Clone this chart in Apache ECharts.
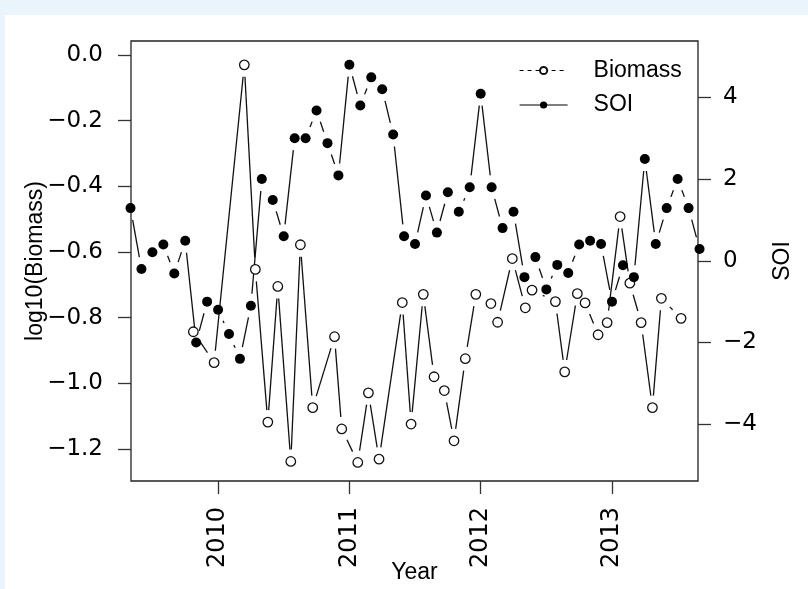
<!DOCTYPE html>
<html><head><meta charset="utf-8">
<script src="https://cdn.jsdelivr.net/npm/echarts@6/dist/echarts.min.js"></script>
<style>
html,body{margin:0;padding:0;background:#eaf4fb;width:808px;height:589px;overflow:hidden}
#bg{position:absolute;left:5px;top:15px;right:0;bottom:0;background:#fff}
#chart{position:absolute;left:0;top:0;width:808px;height:589px}
</style></head><body><div id="bg"></div><div id="chart"></div>
<script>
// SOI: monthly values
const soiMonths = [
 '2009-05','2009-06','2009-07','2009-08','2009-09','2009-10','2009-11','2009-12',
 '2010-01','2010-02','2010-03','2010-04','2010-05','2010-06','2010-07','2010-08','2010-09','2010-10','2010-11','2010-12',
 '2011-01','2011-02','2011-03','2011-04','2011-05','2011-06','2011-07','2011-08','2011-09','2011-10','2011-11','2011-12',
 '2012-01','2012-02','2012-03','2012-04','2012-05','2012-06','2012-07','2012-08','2012-09','2012-10','2012-11','2012-12',
 '2013-01','2013-02','2013-03','2013-04','2013-05','2013-06','2013-07','2013-08','2013-09'];
const soiValues = [
 1.29,-0.20,0.21,0.40,-0.31,0.49,-2.0,-1.0,
 -1.2,-1.79,-2.4,-1.1,2.0,1.49,0.6,3.0,3.0,3.68,2.88,2.09,
 4.80,3.80,4.49,4.2,3.09,0.60,0.41,1.6,0.69,1.68,1.2,1.8,
 4.09,1.8,0.8,1.2,-0.4,0.09,-0.7,-0.1,-0.3,0.4,0.49,0.41,
 -1.0,-0.11,-0.4,2.49,0.41,1.29,2.0,1.29,0.29];
// Biomass: irregular sampling dates (decimal years)
const biomassDates = [
 2009.812,2009.970,2010.200,2010.284,2010.379,2010.455,2010.554,2010.627,2010.721,2010.887,2010.942,
 2011.064,2011.145,2011.226,2011.403,2011.470,2011.563,2011.645,2011.723,2011.797,2011.883,2011.963,
 2012.078,2012.129,2012.241,2012.340,2012.391,2012.569,2012.640,2012.736,2012.795,2012.894,2012.963,
 2013.062,2013.136,2013.222,2013.308,2013.376,2013.526];
const biomassValues = [
 -0.843,-0.937,-0.030,-0.653,-1.118,-0.705,-1.238,-0.578,-1.074,-0.858,-1.139,
 -1.241,-1.029,-1.231,-0.754,-1.124,-0.729,-0.980,-1.022,-1.175,-0.925,-0.729,
 -0.757,-0.814,-0.620,-0.770,-0.716,-0.751,-0.965,-0.727,-0.755,-0.852,-0.815,
 -0.492,-0.695,-0.815,-1.074,-0.741,-0.802];
const yearTicks = [2010, 2011, 2012, 2013];
const biomassTicks = [-1.2, -1.0, -0.8, -0.6, -0.4, -0.2, 0.0];
const soiTicks = [-4, -2, 0, 2, 4];

function monthToYear(s){ const p = s.split('-'); return +p[0] + (+p[1]-1)/12; }
const soiPts = soiMonths.map((m,i) => [monthToYear(m), soiValues[i]]);
const bioPts = biomassDates.map((d,i) => [d, biomassValues[i]]);
function segs(pts){ const r=[]; for(let i=0;i<pts.length-1;i++) r.push([pts[i][0],pts[i][1],pts[i+1][0],pts[i+1][1]]); return r; }

const GAP = 12;
function gapRender(params, api){
  const a = api.coord([api.value(0), api.value(1)]);
  const b = api.coord([api.value(2), api.value(3)]);
  const dx=b[0]-a[0], dy=b[1]-a[1], d=Math.hypot(dx,dy);
  if (d <= 2*GAP) return null;
  const ux=dx/d, uy=dy/d;
  return {type:'line', shape:{x1:a[0]+ux*GAP, y1:a[1]+uy*GAP, x2:b[0]-ux*GAP, y2:b[1]-uy*GAP},
          style:{stroke:'#111', lineWidth:1.3}};
}
const minus = '\u2212';
const tickFont = 'DejaVu Sans';
const textFont = 'Liberation Sans';
const chart = echarts.init(document.getElementById('chart'), null, {renderer:'canvas'});
chart.setOption({
  animation: false,
  backgroundColor: 'transparent',
  grid: {left:131, top:41, width:567, height:440, show:true, borderColor:'#222', borderWidth:1.3, backgroundColor:'transparent'},
  legend: {
    orient:'vertical', left:519, top:59, padding:0, itemWidth:48, itemHeight:9, itemGap:11.5,
    textStyle:{fontSize:23, fontFamily:textFont, color:'#000', padding:[0,0,0,21]},
    data:[
      {name:'Biomass', lineStyle:{type:[4,4], width:1.2, color:'#000', opacity:1}},
      {name:'SOI', lineStyle:{type:'solid', width:1.2, color:'#000', opacity:1}}
    ]
  },
  xAxis: {
    type:'value', min:2009.337, max:2013.655, position:'bottom',
    axisLine:{show:false, onZero:false}, splitLine:{show:false},
    axisTick:{show:true, customValues:yearTicks, length:13, lineStyle:{color:'#333', width:1.3}},
    axisLabel:{customValues:yearTicks, rotate:90, margin:26, fontSize:24, fontFamily:tickFont, color:'#000', formatter:v=>String(v)},
    name:'Year', nameLocation:'middle', nameGap:80, nameMoveOverlap:false,
    nameTextStyle:{fontSize:23, fontFamily:textFont, color:'#000'}
  },
  yAxis: [{
    type:'value', position:'left', min:-1.2975, max:0.0426,
    axisLine:{show:false, onZero:false}, splitLine:{show:false},
    axisTick:{show:true, customValues:biomassTicks, length:13, lineStyle:{color:'#333', width:1.3}},
    axisLabel:{customValues:biomassTicks, margin:28, fontSize:23, fontFamily:tickFont, color:'#000',
      formatter:v=>(v < -1e-9 ? minus : '') + Math.abs(v).toFixed(1)},
    name:'log10(Biomass)', nameLocation:'middle', nameRotate:90, nameGap:84, nameMoveOverlap:false,
    nameTextStyle:{fontSize:23, fontFamily:textFont, color:'#000'}
  },{
    type:'value', position:'right', min:-5.39, max:5.38,
    axisLine:{show:false, onZero:false}, splitLine:{show:false},
    axisTick:{show:true, customValues:soiTicks, length:13, lineStyle:{color:'#333', width:1.3}},
    axisLabel:{customValues:soiTicks, margin:25, fontSize:23, fontFamily:tickFont, color:'#000',
      formatter:v=>(v<0 ? minus + Math.abs(v) : String(v))},
    name:'SOI', nameLocation:'middle', nameRotate:90, nameGap:73.5, nameMoveOverlap:false,
    nameTextStyle:{fontSize:23, fontFamily:textFont, color:'#000'}
  }],
  series: [
    {type:'custom', yAxisIndex:0, clip:true, data:segs(bioPts), renderItem:gapRender, z:2, silent:true},
    {type:'custom', yAxisIndex:1, clip:true, data:segs(soiPts), renderItem:gapRender, z:2, silent:true},
    {name:'Biomass', type:'line', yAxisIndex:0, data:bioPts, symbol:'circle', symbolSize:9.5, clip:false,
     itemStyle:{color:'#fff', borderColor:'#111', borderWidth:1.3}, lineStyle:{opacity:0}, z:3},
    {name:'SOI', type:'line', yAxisIndex:1, data:soiPts, symbol:'circle', symbolSize:10, clip:false,
     itemStyle:{color:'#000'}, lineStyle:{opacity:0}, z:4}
  ]
});
</script></body></html>
